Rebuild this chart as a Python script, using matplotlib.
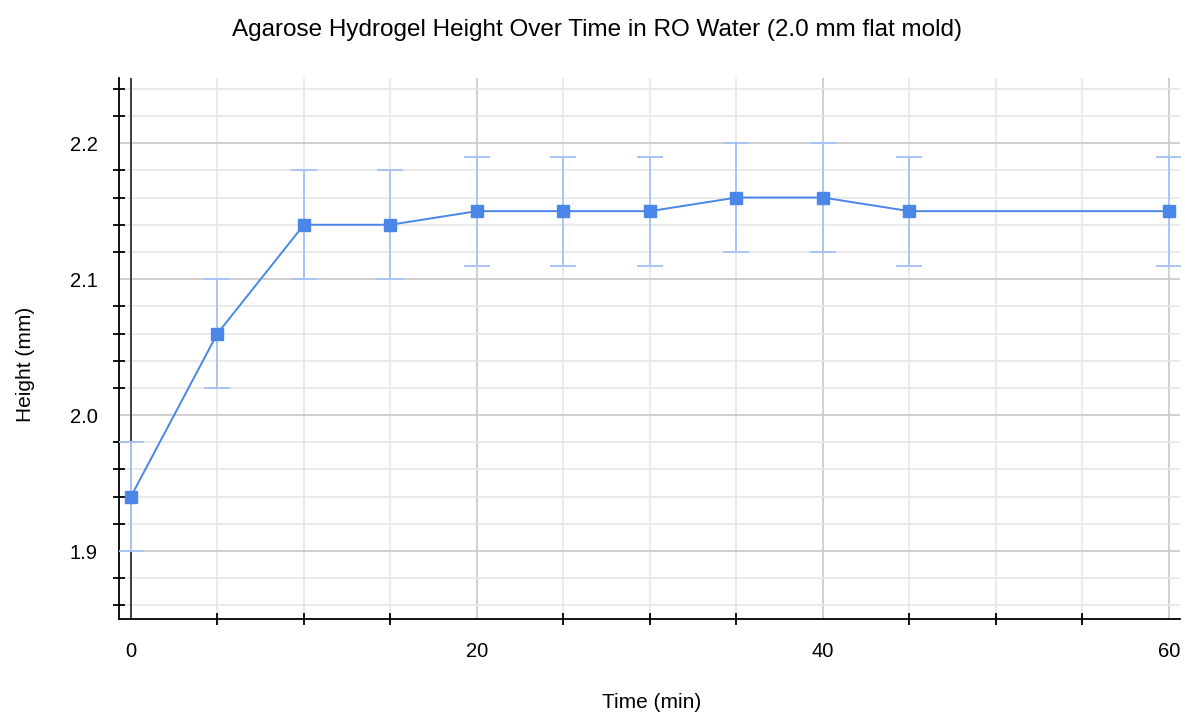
import matplotlib
matplotlib.use("Agg")
import matplotlib.pyplot as plt
from matplotlib.ticker import MultipleLocator, NullFormatter

plt.rcParams["font.family"] = ["Liberation Sans", "DejaVu Sans"]

# swelling measurements, mean +/- sd
time_min = [0, 5, 10, 15, 20, 25, 30, 35, 40, 45, 60]
height_mm = [1.94, 2.06, 2.14, 2.14, 2.15, 2.15, 2.15, 2.16, 2.16, 2.15, 2.15]
height_err = [0.04, 0.04, 0.04, 0.04, 0.04, 0.04, 0.04, 0.04, 0.04, 0.04, 0.04]

LINE = "#4a86e8"
ERR = "#a9c4f5"

fig = plt.figure(figsize=(11.85, 7.15), dpi=100)
ax = fig.add_axes([0.1004, 0.1343, 0.8954, 0.7567])

ax.set_xlim(-0.69, 60.64)
ax.set_ylim(1.85, 2.248)

ax.xaxis.set_major_locator(MultipleLocator(20))
ax.xaxis.set_minor_locator(MultipleLocator(5))
ax.yaxis.set_major_locator(MultipleLocator(0.1))
ax.yaxis.set_minor_locator(MultipleLocator(0.02))
ax.yaxis.set_major_formatter(plt.FormatStrFormatter("%.1f"))
ax.xaxis.set_minor_formatter(NullFormatter())

ax.grid(which="minor", color="#e8e8e8", lw=1.3, zorder=0)
ax.grid(which="major", color="#cccccc", lw=1.3, zorder=0)
ax.axvline(0, color="#333333", lw=1.3, zorder=1)
ax.set_axisbelow(True)

for s in ("top", "right"):
    ax.spines[s].set_visible(False)
for s in ("left", "bottom"):
    ax.spines[s].set_color("black")
    ax.spines[s].set_linewidth(1.3)

ax.tick_params(which="major", length=0, labelsize=14.5)
ax.tick_params(axis="x", which="major", pad=16.5)
ax.tick_params(axis="y", which="major", pad=15.5)
ax.tick_params(which="minor", length=8, width=1.3, direction="inout", color="black")

ax.errorbar(time_min, height_mm, yerr=height_err, fmt="none", ecolor=ERR,
            elinewidth=1.4, capsize=9.5, capthick=1.4, zorder=3)
ax.plot(time_min, height_mm, "-", color=LINE, lw=1.4, marker="s", ms=8,
        mec=LINE, mfc=LINE, zorder=4, clip_on=False)

fig.text(0.5037, 0.958, "Agarose Hydrogel Height Over Time in RO Water (2.0 mm flat mold)",
         ha="center", va="center", fontsize=17.5)
fig.text(0.5495, 0.018, "Time (min)", ha="center", va="center", fontsize=15)
fig.text(0.0215, 0.49, "Height (mm)", ha="center", va="center", rotation=90, fontsize=15)

fig.savefig("out.png", dpi=100)
